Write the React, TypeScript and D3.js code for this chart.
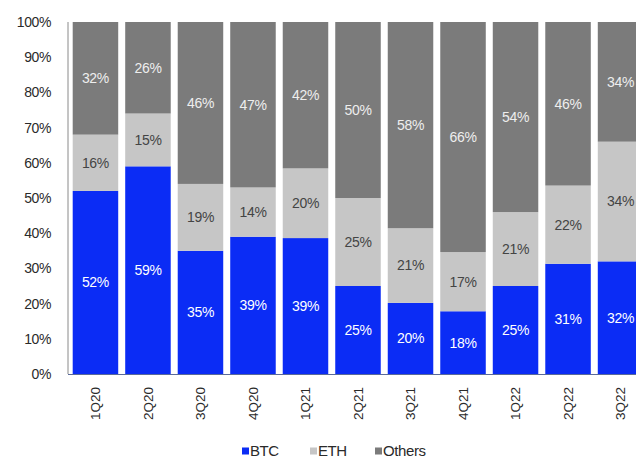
import React from "react";
import * as d3 from "d3";

const categories = ["1Q20", "2Q20", "3Q20", "4Q20", "1Q21", "2Q21", "3Q21", "4Q21", "1Q22", "2Q22", "3Q22"];
const btc = [52, 59, 35, 39, 39, 25, 20, 18, 25, 31, 32];
const eth = [16, 15, 19, 14, 20, 25, 21, 17, 21, 22, 34];
const others = [32, 26, 46, 47, 42, 50, 58, 66, 54, 46, 34];
const yTicks = [0, 0.1, 0.2, 0.3, 0.4, 0.5, 0.6, 0.7, 0.8, 0.9, 1];
const seriesNames = ["BTC", "ETH", "Others"];
const colors = ["#0b2cf5", "#c6c6c6", "#7b7b7b"];
const labelColors = ["#ffffff", "#444444", "#eeeeee"];

const W = 636;
const H = 459;
const FONT = "Arial, 'Liberation Sans', sans-serif";

export default function App() {
  const rows = categories.map((c, i) => ({ cat: c, BTC: btc[i], ETH: eth[i], Others: others[i] }));
  const stacked = d3.stack<any>().keys(seriesNames).offset(d3.stackOffsetExpand)(rows);

  const x = d3.scaleBand<string>().domain(categories).range([68, 648]).paddingInner(0.1333).paddingOuter(0.0895);
  const y = d3.scaleLinear().domain([0, 1]).range([374, 22]);

  const legendX = [242, 310, 375];

  return (
    <div style={{ position: "absolute", left: 0, top: 0 }}>
      <svg width={W} height={H} style={{ display: "block", background: "#fff" }} fontFamily={FONT}>
        {stacked.map((s, si) => (
          <g key={s.key}>
            {s.map((d, i) => (
              <rect
                key={i}
                x={x(categories[i])}
                y={y(d[1])}
                width={x.bandwidth()}
                height={y(d[0]) - y(d[1])}
                fill={colors[si]}
              />
            ))}
          </g>
        ))}
        {stacked.map((s, si) => (
          <g key={"l" + s.key}>
            {s.map((d, i) => (
              <text
                key={i}
                x={(x(categories[i]) as number) + x.bandwidth() / 2}
                y={(y(d[0]) + y(d[1])) / 2}
                dy="0.35em"
                textAnchor="middle"
                fontSize={14}
                letterSpacing={-0.3}
                fill={labelColors[si]}
              >
                {(s.key === "BTC" ? btc : s.key === "ETH" ? eth : others)[i]}%
              </text>
            ))}
          </g>
        ))}
        <line x1={68} x2={68} y1={22} y2={374} stroke="#8a8a8a" strokeWidth={1} />
        <line x1={68} x2={W} y1={374.5} y2={374.5} stroke="#5a6a9a" strokeWidth={1} />
        {yTicks.map((t) => (
          <text key={t} x={51} y={y(t)} dy="0.35em" textAnchor="end" fontSize={14} letterSpacing={-0.4} fill="#2a2a2a">
            {d3.format(".0%")(t)}
          </text>
        ))}
        {categories.map((c) => {
          const cx = (x(c) as number) + x.bandwidth() / 2;
          return (
            <text
              key={c}
              transform={`translate(${cx},387) rotate(-90)`}
              textAnchor="end"
              dy="0.35em"
              fontSize={13.5}
              fill="#2a2a2a"
            >
              {c}
            </text>
          );
        })}
        {seriesNames.map((n, i) => (
          <g key={n} transform={`translate(${legendX[i]},451)`}>
            <rect x={0} y={-3.5} width={7} height={7} fill={colors[i]} />
            <text x={8} dy="0.35em" fontSize={15} letterSpacing={-0.4} fill="#2a2a2a">
              {n}
            </text>
          </g>
        ))}
      </svg>
    </div>
  );
}
